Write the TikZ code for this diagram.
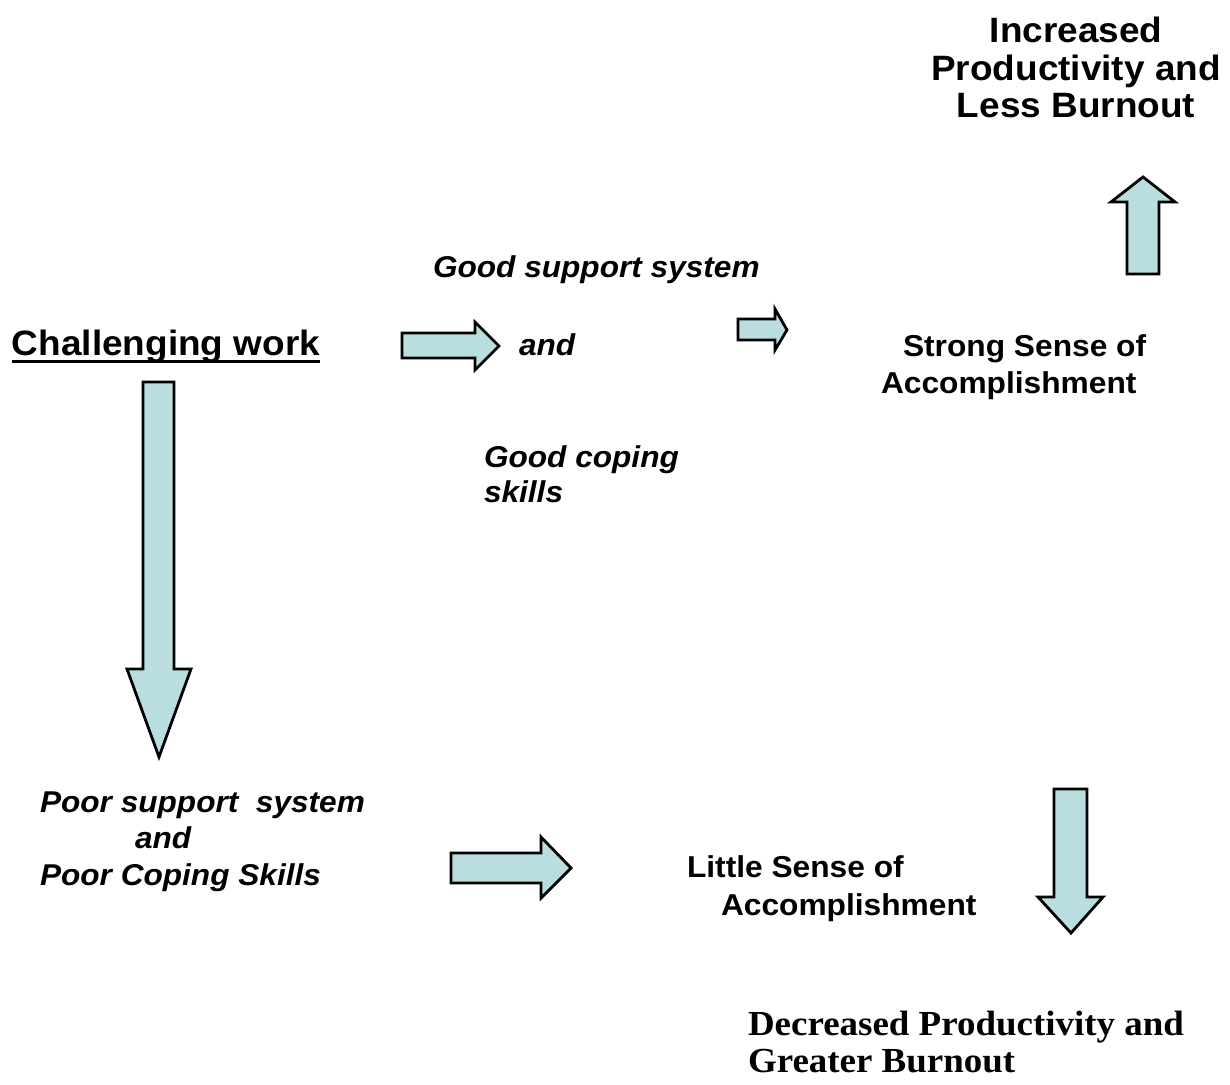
\documentclass[tikz,border=0pt]{standalone}
\usepackage{fontspec}
\usetikzlibrary{calc}
% slightly widened sans and serif faces
\newfontfamily\sx{Liberation Sans}[FakeStretch=1.05]
\newfontfamily\tx{Liberation Serif}[FakeStretch=1.05]
\definecolor{arrowfill}{RGB}{186,221,224}
\tikzset{
  blockarrow/.style={draw=black, fill=arrowfill, line width=2.8pt, line join=miter},
  txt/.style={inner sep=0pt, outer sep=0pt, anchor=base west, text=black},
  headline/.style={txt, font=\sx\bfseries\fontsize{35.2}{40}\selectfont},
  labelbold/.style={txt, font=\sx\bfseries\fontsize{30.2}{36}\selectfont},
  labelital/.style={txt, font=\sx\bfseries\itshape\fontsize{30.1}{36}\selectfont},
  resultserif/.style={txt, font=\tx\bfseries\fontsize{35.2}{40}\selectfont},
}
\begin{document}
\begin{tikzpicture}[x=1pt, y=-1pt]
  \useasboundingbox (0,0) rectangle (1230,1084);

  % outcome at the top right
  \node[headline, anchor=base] (inc1) at (1076,42) {Increased};
  \node[headline, anchor=base] (inc2) at (1076,80) {Productivity and};
  \node[headline, anchor=base] (inc3) at (1076,117) {Less Burnout};

  % starting point
  \node[headline] (chal) at (12,355) {Challenging work};
  \draw[line width=3pt] ($(chal.base west)+(0,6.5)$) -- ($(chal.base east)+(0,6.5)$);

  % upper path
  \node[labelital] (gs1) at (433,277) {Good support system};
  \node[labelital] (gand) at (519,355) {and};
  \node[labelital] (gc1) at (484,467) {Good coping};
  \node[labelital] (gc2) at (484,502) {skills};
  \node[labelbold] (ss1) at (903,356) {Strong Sense of};
  \node[labelbold] (ss2) at (881,393) {Accomplishment};

  % lower path
  \node[labelital] (pp1) at (40,812) {Poor support\ \ system};
  \node[labelital] (pp2) at (135,848) {and};
  \node[labelital] (pp3) at (40,885) {Poor Coping Skills};
  \node[labelbold] (ls1) at (687,877) {Little Sense of};
  \node[labelbold] (ls2) at (721,915) {Accomplishment};
  \node[resultserif] (dp1) at (748,1035) {Decreased Productivity and};
  \node[resultserif] (dp2) at (748,1072) {Greater Burnout};

  % block arrows
  % right, after "Challenging work"
  \draw[blockarrow] (402,333) -- (475,333) -- (475,322) -- (499,346) -- (475,370)
        -- (475,358) -- (402,358) -- cycle;
  % small right, towards "Strong Sense of Accomplishment"
  \draw[blockarrow] (738,319) -- (775,319) -- (775,309) -- (787,330) -- (775,350)
        -- (775,340) -- (738,340) -- cycle;
  % up, towards "Increased Productivity"
  \draw[blockarrow] (1127,274) -- (1127,202) -- (1111,202) -- (1143,177) -- (1175,202)
        -- (1159,202) -- (1159,274) -- cycle;
  % long down from "Challenging work"
  \draw[blockarrow] (143,382) -- (174,382) -- (174,669) -- (191,669) -- (159,757)
        -- (127,669) -- (143,669) -- cycle;
  % right, after "Poor Coping Skills"
  \draw[blockarrow] (451,853) -- (541,853) -- (541,837) -- (571,868) -- (541,898)
        -- (541,883) -- (451,883) -- cycle;
  % down, towards "Decreased Productivity"
  \draw[blockarrow] (1054,789) -- (1087,789) -- (1087,897) -- (1103,897) -- (1071,933)
        -- (1038,897) -- (1054,897) -- cycle;
\end{tikzpicture}
\end{document}
